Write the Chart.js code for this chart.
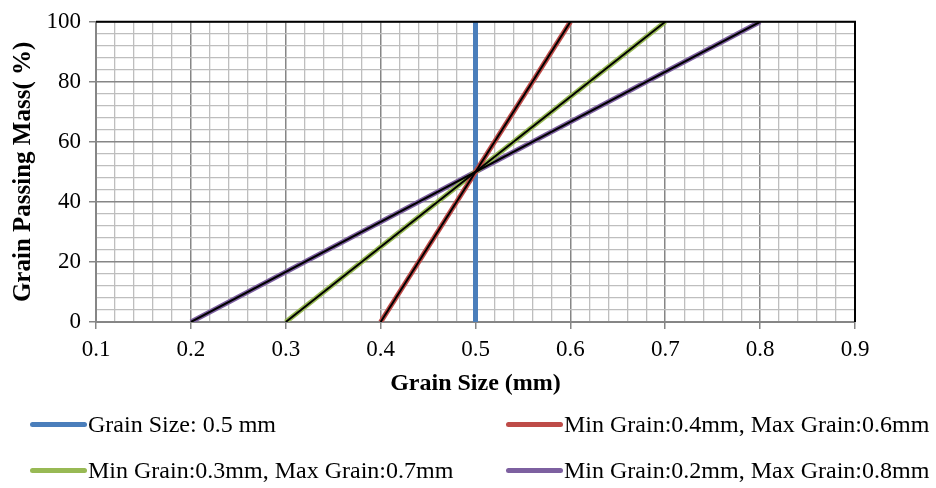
<!DOCTYPE html>
<html>
<head>
<meta charset="utf-8">
<script src="https://cdn.jsdelivr.net/npm/chart.js@4/dist/chart.umd.min.js"></script>
<style>
  html, body { margin: 0; padding: 0; background: #fff; }
  #wrap { position: relative; width: 936px; height: 488px; }
  .lg { position: absolute; font-family: "Liberation Serif", "Times New Roman", serif; font-size: 24px; color: #000; white-space: nowrap; line-height: 24px; }
  .lg span.sw { position: absolute; top: 10px; height: 5px; border-radius: 3px; }
</style>
</head>
<body>
<div id="wrap">
  <canvas id="chart" width="936" height="488"></canvas>
</div>
<script>
// data
const passing = [0, 100];
const grainSize = [0.5, 0.5];
const range46 = [0.4, 0.6];
const range37 = [0.3, 0.7];
const range28 = [0.2, 0.8];
const seriesNames = [
    'Grain Size: 0.5 mm',
    'Min Grain:0.4mm, Max Grain:0.6mm',
    'Min Grain:0.3mm, Max Grain:0.7mm',
    'Min Grain:0.2mm, Max Grain:0.8mm'
];
const seriesColors = ['#4a7ebb', '#be4b48', '#98b954', '#7d60a0'];
const xLabels = [0.1, 0.2, 0.3, 0.4, 0.5, 0.6, 0.7, 0.8, 0.9];
const yLabels = [0, 20, 40, 60, 80, 100];

const fontFamily = '"Liberation Serif", "Times New Roman", serif';

function pts(xs) {
    return xs.map((x, i) => ({ x: x, y: passing[i] }));
}

function isMajorX(v) { return xLabels.some(l => Math.abs(l - v) < 1e-6); }
function isMajorY(v) { return yLabels.some(l => Math.abs(l - v) < 1e-6); }

const xsList = [grainSize, range46, range37, range28];
const datasets = [];
xsList.forEach((xs, i) => {
    const ds = {
        label: seriesNames[i],
        borderColor: seriesColors[i],
        borderWidth: 5,
        order: i === 0 ? 3 : 2
    };
    ds['data'] = pts(xs);
    datasets.push(ds);
    // thin black core on the sloped lines
    if (i > 0) {
        const inner = {
            label: '',
            borderColor: '#000',
            borderWidth: 2,
            order: 1
        };
        inner['data'] = pts(xs);
        datasets.push(inner);
    }
});

const frame = {
    id: 'frame',
    afterDatasetsDraw(chart) {
        const a = chart.chartArea;
        const c = chart.ctx;
        c.save();
        c.strokeStyle = '#000';
        c.lineWidth = 2;
        c.beginPath();
        c.moveTo(a.left, a.top);
        c.lineTo(a.right, a.top);
        c.lineTo(a.right, a.bottom);
        c.stroke();
        c.restore();
    }
};

const chartData = {};
chartData['datasets'] = datasets;

const canvas = document.getElementById('chart');
new Chart(canvas.getContext('2d'), {
    type: 'scatter',
    data: chartData,
    options: {
        responsive: false,
        animation: false,
        showLine: true,
        elements: { point: { radius: 0 }, line: { tension: 0 } },
        layout: { padding: { top: 16, right: 81, bottom: 86, left: 0 } },
        plugins: { legend: { display: false }, tooltip: { enabled: false } },
        scales: {
            x: {
                type: 'linear',
                min: 0.1,
                max: 0.9,
                afterFit(s) { s.height = 80; },
                ticks: {
                    stepSize: 0.02,
                    autoSkip: false,
                    maxRotation: 0,
                    color: '#000',
                    padding: 7,
                    font: { family: fontFamily, size: 23 },
                    callback: v => isMajorX(v) ? (Math.round(v * 10) / 10).toFixed(1) : ''
                },
                grid: {
                    color: c => isMajorX(c.tick.value) ? '#868686' : '#bebebe',
                    lineWidth: c => isMajorX(c.tick.value) ? 1.5 : 1.3,
                    tickLength: 7,
                    tickColor: c => isMajorX(c.tick.value) ? '#868686' : 'rgba(0,0,0,0)'
                },
                border: { color: '#868686', width: 2 },
                title: {
                    display: true,
                    text: 'Grain Size (mm)',
                    color: '#000',
                    font: { family: fontFamily, size: 24, weight: 'bold' },
                    padding: { top: 0, bottom: 4 }
                }
            },
            y: {
                type: 'linear',
                min: 0,
                max: 100,
                afterFit(s) { s.width = 96; },
                ticks: {
                    stepSize: 4,
                    autoSkip: false,
                    color: '#000',
                    padding: 8,
                    font: { family: fontFamily, size: 23 },
                    callback: v => isMajorY(v) ? String(v) : ''
                },
                grid: {
                    color: c => isMajorY(c.tick.value) ? '#868686' : '#bebebe',
                    lineWidth: c => isMajorY(c.tick.value) ? 1.5 : 1.3,
                    tickLength: 7,
                    tickColor: c => isMajorY(c.tick.value) ? '#868686' : 'rgba(0,0,0,0)'
                },
                border: { color: '#868686', width: 2 },
                title: {
                    display: true,
                    text: 'Grain Passing Mass( %)',
                    color: '#000',
                    font: { family: fontFamily, size: 25, weight: 'bold' },
                    padding: { top: 9, bottom: 0 }
                }
            }
        }
    },
    plugins: [frame]
});

// legend in two columns under the chart
const wrap = document.getElementById('wrap');
const legendPos = [[30, 412], [506, 412], [30, 458], [506, 458]];
seriesNames.forEach((name, i) => {
    const d = document.createElement('div');
    d.className = 'lg';
    d.style.left = legendPos[i][0] + 'px';
    d.style.top = legendPos[i][1] + 'px';
    d.style.paddingLeft = '58px';
    const sw = document.createElement('span');
    sw.className = 'sw';
    sw.style.left = '0px';
    sw.style.width = '57px';
    sw.style.background = seriesColors[i];
    d.appendChild(sw);
    d.appendChild(document.createTextNode(name));
    wrap.appendChild(d);
});
</script>
</body>
</html>
